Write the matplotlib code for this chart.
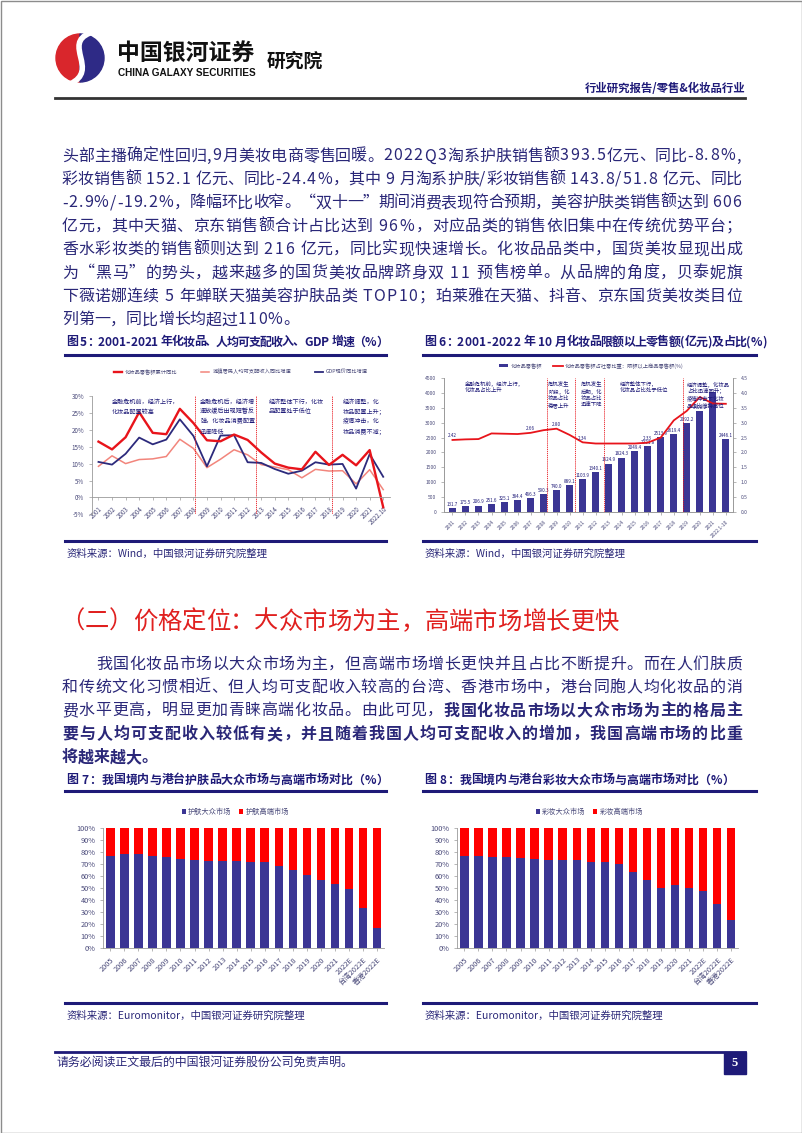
import numpy as np
import matplotlib
matplotlib.use('Agg')
import matplotlib.pyplot as plt
from matplotlib.patches import Rectangle, Wedge, PathPatch
from matplotlib.path import Path

plt.rcParams['font.family'] = ['Noto Sans CJK SC', 'DejaVu Sans']
plt.rcParams['axes.unicode_minus'] = False

W, H = 802, 1133

# ---------------- data ----------------
years5 = ['2001', '2002', '2003', '2004', '2005', '2006', '2007', '2008', '2009', '2010', '2011',
          '2012', '2013', '2014', '2015', '2016', '2017', '2018', '2019', '2020', '2021', '2022.10']
cosm_growth = [16.5, 14.2, 17.8, 25.2, 19.1, 18.7, 26.2, 22.0, 16.9, 16.6, 18.6,
               17.0, 13.3, 10.0, 8.8, 8.3, 13.5, 9.6, 12.6, 9.5, 14.0, -2.9]
income_growth = [9.2, 12.3, 10.0, 11.2, 11.4, 12.1, 17.2, 14.5, 8.8, 11.3, 14.1,
                 12.6, 9.7, 9.0, 8.2, 5.8, 8.3, 7.8, 7.9, 4.0, 8.2, 2.3]
gdp_growth = [10.5, 9.7, 12.9, 17.7, 15.7, 17.1, 23.1, 18.2, 9.2, 18.3, 18.4,
              10.4, 10.2, 8.4, 7.0, 7.9, 10.4, 9.7, 9.9, 2.6, 12.8, 6.1]
periods5 = [7.1, 11.6, 17.2]
notes5 = ['金融危机前，经济上行，\n化妆品配置较高',
          '金融危机后，经济增\n速放缓后出现短暂反\n弹，化妆品消费配置\n迅速降低',
          '经济整体下行，化妆\n品配置处于低位',
          '经济调整，化\n妆品配置上升；\n疫情冲击，化\n妆品消费不减；']
notes5_x = [1.0, 7.5, 12.55, 18.0]

years6 = ['2001', '2002', '2003', '2004', '2005', '2006', '2007', '2008', '2009', '2010', '2011',
          '2012', '2013', '2014', '2015', '2016', '2017', '2018', '2019', '2020', '2021', '2022.1-10']
sales = [131.7, 175.5, 206.9, 251.6, 325.1, 384.4, 466.3, 590.3, 740.0, 889.1, 1103.9,
         1340.1, 1624.9, 1824.3, 2049.4, 2221.8, 2513.9, 2619.4, 2992.2, 3400.2, 4026.0, 2446.1]
share = [2.42, 2.44, 2.45, 2.64, 2.63, 2.62, 2.66, 2.75, 2.80, 2.59, 2.34,
         2.30, 2.30, 2.30, 2.30, 2.33, 2.50, 3.08, 3.40, 3.87, 3.65, 3.64]
share_labeled = [0, 6, 8, 10, 15]
periods6 = [7.25, 9.4, 11.65, 17.7]
notes6 = ['金融危机前，经济上行，\n化妆品占比上升',
          '危机发生\n阶段，化\n妆品占比\n稳居上升',
          '危机发生\n后期，化\n妆品占比\n迅速下降',
          '经济整体下行，\n化妆品占比处于低位',
          '经济调整，化妆品\n占比迅速回升；\n疫情冲击下化妆\n品占比维持高位']
notes6_x = [0.95, 7.35, 9.85, 12.85, 18.0]

years78 = ['2005', '2006', '2007', '2008', '2009', '2010', '2011', '2012', '2013', '2014',
           '2015', '2016', '2017', '2018', '2019', '2020', '2021', '2022E', '台湾2022E', '香港2022E']
skin_mass = [76.7, 78.4, 77.8, 76.5, 75.3, 74.2, 73.1, 72.6, 72.0, 72.0,
             71.7, 71.2, 68.1, 65.1, 61.0, 56.5, 52.9, 48.8, 33.5, 16.3]
skin_prem = [23.3, 21.6, 22.2, 23.5, 24.7, 25.8, 26.9, 27.4, 28.0, 28.0,
             28.3, 28.8, 31.9, 34.9, 39.0, 43.5, 47.1, 51.2, 66.5, 83.7]
makeup_mass = [76.5, 76.5, 75.9, 75.3, 74.5, 74.0, 72.9, 73.4, 73.1, 71.7,
               71.7, 69.5, 63.2, 56.2, 50.1, 52.6, 49.9, 47.4, 36.6, 23.5]
makeup_prem = [23.5, 23.5, 24.1, 24.7, 25.5, 26.0, 27.1, 26.6, 26.9, 28.3,
               28.3, 30.5, 36.8, 43.8, 49.9, 47.4, 50.1, 52.6, 63.4, 76.5]

para1 = [
    '头部主播确定性回归,9月美妆电商零售回暖。2022Q3淘系护肤销售额393.5亿元、同比-8.8%,',
    '彩妆销售额 152.1 亿元、同比-24.4%，其中 9 月淘系护肤/彩妆销售额 143.8/51.8 亿元、同比',
    '-2.9%/-19.2%，降幅环比收窄。“双十一”期间消费表现符合预期，美容护肤类销售额达到 606',
    '亿元，其中天猫、京东销售额合计占比达到 96%，对应品类的销售依旧集中在传统优势平台；',
    '香水彩妆类的销售额则达到 216 亿元，同比实现快速增长。化妆品品类中，国货美妆显现出成',
    '为“黑马”的势头，越来越多的国货美妆品牌跻身双 11 预售榜单。从品牌的角度，贝泰妮旗',
    '下薇诺娜连续 5 年蝉联天猫美容护肤品类 TOP10；珀莱雅在天猫、抖音、京东国货美妆类目位',
    '列第一，同比增长均超过110%。',
]
para2 = [
    [('我国化妆品市场以大众市场为主，但高端市场增长更快并且占比不断提升。而在人们肤质', 'normal')],
    [('和传统文化习惯相近、但人均可支配收入较高的台湾、香港市场中，港台同胞人均化妆品的消', 'normal')],
    [('费水平更高，明显更加青睐高端化妆品。由此可见，', 'normal'), ('我国化妆品市场以大众市场为主的格局主', 'bold')],
    [('要与人均可支配收入较低有关，并且随着我国人均可支配收入的增加，我国高端市场的比重', 'bold')],
    [('将越来越大。', 'bold')],
]

# ---------------- colours ----------------
TXT = '#2a2778'
TITLE = '#1e1a78'
BAR = '#3b3594'
RED = '#e8141b'
PINK = '#f2857c'
GDPC = '#2c2a7c'
TICK = '#4a4a7a'
SPINE = '#9a9a9a'

fig = plt.figure(figsize=(W / 100, H / 100), dpi=100)
page = fig.add_axes([0, 0, 1, 1])
page.set_xlim(0, W)
page.set_ylim(H, 0)
page.axis('off')
renderer = fig.canvas.get_renderer()


def add_ax(x0, y0, x1, y1):
    return fig.add_axes([x0 / W, 1 - y1 / H, (x1 - x0) / W, (y1 - y0) / H])


def put_line(y, segs, x0, x1, size, color, justify=True):
    em = size * 100 / 72
    objs, widths = [], []
    for s, wt in segs:
        for ch in s:
            t = page.text(0, y, ch, fontsize=size, fontweight=wt, color=color,
                          va='center', ha='left')
            objs.append(t)
            if ch == ' ':
                widths.append(em * 0.3)
            elif ord(ch) >= 0x2E80 or ch in '“”':
                widths.append(em)
            else:
                widths.append(t.get_window_extent(renderer).width + em * 0.08)
    gap = (x1 - x0 - sum(widths)) / max(len(objs) - 1, 1) if justify else 0.0
    x = x0
    for t, w in zip(objs, widths):
        t.set_x(x)
        x += w + gap


# ---------------- page frame / header ----------------
page.add_patch(Rectangle((0.5, 0.5), W - 1, H - 1, fill=False, ec='#8c8c8c', lw=1))
page.add_patch(Wedge((80, 58), 24, 90, 270, color='#d9262c'))
page.add_patch(Wedge((80, 58), 24, -90, 90, color='#2e2a86'))
s_path = Path([(90, 33), (62, 44), (100, 70), (70, 84)],
              [Path.MOVETO, Path.CURVE4, Path.CURVE4, Path.CURVE4])
page.add_patch(PathPatch(s_path, fill=False, ec='white', lw=4))
page.text(117, 53, '中国银河证券', fontsize=16.5, fontweight='bold', color='#111111', va='center')
page.text(118, 73, 'CHINA GALAXY SECURITIES', fontsize=7.2, fontweight='bold', color='#111111',
          va='center', family=['Liberation Sans', 'DejaVu Sans'])
page.text(267, 61, '研究院', fontsize=13.5, fontweight='bold', color='#111111', va='center')
page.text(745, 88, '行业研究报告/零售&化妆品行业', fontsize=8.2, fontweight='bold', color=TITLE,
          va='center', ha='right')
page.plot([55, 745], [98, 98], color='#333333', lw=2)

# ---------------- paragraph 1 ----------------
for i, line in enumerate(para1):
    put_line(156 + i * 23.4, [(line, 'normal')], 62, 742, 11.5, TXT, justify=i < len(para1) - 1)

# ---------------- chart titles ----------------
put_line(342, [('图 5：2001-2021 年化妆品、人均可支配收入、GDP 增速（%）', 'bold')], 66, 388, 8.6, TITLE)
put_line(342, [('图 6：2001-2022 年 10 月化妆品限额以上零售额(亿元)及占比(%)', 'bold')], 424, 768, 8.6, TITLE)
put_line(780, [('图 7：我国境内与港台护肤品大众市场与高端市场对比（%）', 'bold')], 66, 381, 8.6, TITLE, justify=False)
put_line(780, [('图 8：我国境内与港台彩妆大众市场与高端市场对比（%）', 'bold')], 424, 724, 8.6, TITLE, justify=False)
for yy in (354.5, 791):
    page.plot([65, 386], [yy, yy], color=TITLE, lw=2.2)
    page.plot([423, 756], [yy, yy], color=TITLE, lw=2.2)
for yy, src in ((541, '资料来源：Wind，中国银河证券研究院整理'),
                (1003, '资料来源：Euromonitor，中国银河证券研究院整理')):
    page.plot([65, 386], [yy, yy], color=TITLE, lw=2.2)
    page.plot([423, 756], [yy, yy], color=TITLE, lw=2.2)
    page.text(67, yy + 13, src, fontsize=7.5, color=TXT, va='center')
    page.text(425, yy + 13, src, fontsize=7.5, color=TXT, va='center')

# ---------------- section heading + paragraph 2 ----------------
put_line(622, [('（二）价格定位：大众市场为主，高端市场增长更快', 'normal')], 60, 637, 17.5, '#e0201f', justify=False)
for i, segs in enumerate(para2):
    x0 = 62 + 2 * 17 if i == 0 else 62
    put_line(664 + i * 23.3, segs, x0, 742, 11.5, TXT, justify=i < len(para2) - 1)

# ---------------- footer ----------------
page.plot([55, 745], [1052, 1052], color=TITLE, lw=2)
page.text(57, 1063, '请务必阅读正文最后的中国银河证券股份公司免责声明。', fontsize=8.6, color=TXT, va='center')
page.add_patch(Rectangle((724, 1052), 22, 22, color=TITLE))
page.text(735, 1063, '5', fontsize=9, fontweight='bold', color='white', ha='center', va='center',
          family=['Liberation Serif', 'DejaVu Serif'])


def style_axis(ax, size):
    ax.tick_params(labelsize=size, colors=TICK, length=2, width=0.5)
    ax.tick_params(axis='both', color=SPINE)
    for s in ax.spines.values():
        s.set_color(SPINE)
        s.set_linewidth(0.6)
    ax.spines['top'].set_visible(False)


# ---------------- chart 5 ----------------
ax5 = add_ax(91.7, 396, 390, 514.3)
ax5.spines['bottom'].set_position(('data', 0))
x5 = np.arange(len(years5))
l_inc, = ax5.plot(x5, income_growth, color=PINK, lw=1.1, label='城镇居民人均可支配收入同比增速')
l_gdp, = ax5.plot(x5, gdp_growth, color=GDPC, lw=1.3, label='GDP现价同比增速')
l_cos, = ax5.plot(x5, cosm_growth, color=RED, lw=1.7, label='化妆品零售额累计同比')
for xv in periods5:
    ax5.axvline(xv, color=RED, lw=0.6, ls=(0, (1.5, 1)))
for xv, note in zip(notes5_x, notes5):
    ax5.text(xv, 29.6, note, fontsize=4.4, color=TITLE, va='top', ha='left', linespacing=1.35)
ax5.set_xlim(-0.5, len(x5) - 0.5)
ax5.set_ylim(-5, 30)
ax5.set_yticks(range(-5, 31, 5))
ax5.set_yticklabels([f'{v}%' for v in range(-5, 31, 5)])
ax5.set_xticks(x5)
ax5.set_xticklabels(years5, rotation=45, ha='right', rotation_mode='anchor')
style_axis(ax5, 4.5)
ax5.spines['right'].set_visible(False)
ax5.legend(handles=[l_cos, l_inc, l_gdp], loc='center', bbox_to_anchor=(0.5, 1.205), ncol=3,
           frameon=False, fontsize=3.8, handlelength=1.5, columnspacing=4.5, handletextpad=0.6,
           labelcolor=TICK)

# ---------------- chart 6 ----------------
ax6 = add_ax(444, 378.3, 733, 511.7)
x6 = np.arange(len(years6))
bars6 = ax6.bar(x6, sales, width=0.55, color=BAR, label='化妆品零售额')
for i, v in enumerate(sales):
    if i != 20:
        ax6.text(i, v + 40, f'{v:.1f}', fontsize=3.3, color=TITLE, ha='center', va='bottom')
ax6r = ax6.twinx()
l_share, = ax6r.plot(x6, share, color=RED, lw=1.3, label='化妆品零售额占社零比重：限额以上商品零售额(%)')
for i in share_labeled:
    ax6r.text(i, share[i] + 0.05, f'{share[i]:.2f}', fontsize=3.3, color=TITLE, ha='center', va='bottom')
for xv in periods6:
    ax6r.axvline(xv, color=RED, lw=0.6, ls=(0, (1.5, 1)))
for xv, note in zip(notes6_x, notes6):
    ax6r.text(xv, 4.42, note, fontsize=3.9, color=TITLE, va='top', ha='left', linespacing=1.35)
ax6.set_xlim(-0.65, len(x6) - 0.45)
ax6.set_ylim(0, 4500)
ax6r.set_ylim(0, 4.5)
ax6.set_yticks(range(0, 4501, 500))
ax6r.set_yticks(np.arange(0, 4.51, 0.5))
ax6r.set_yticklabels([f'{v:.1f}' for v in np.arange(0, 4.51, 0.5)])
ax6.set_xticks(x6)
ax6.set_xticklabels(years6, rotation=45, ha='right', rotation_mode='anchor')
style_axis(ax6, 3.6)
style_axis(ax6r, 3.6)
ax6.legend(handles=[bars6, l_share], loc='center', bbox_to_anchor=(0.51, 1.094), ncol=2,
           frameon=False, fontsize=3.8, handlelength=1.8, handleheight=0.5, columnspacing=2,
           handletextpad=0.5, labelcolor=TICK)


# ---------------- charts 7 & 8 ----------------
def stacked(ax, mass, prem, names, cx):
    xs = np.arange(len(years78))
    ax.bar(xs, mass, width=0.6, color=BAR, label=names[0])
    ax.bar(xs, prem, width=0.6, bottom=mass, color='#ff0000', label=names[1])
    ax.set_xlim(-0.5, len(xs) - 0.5)
    ax.set_ylim(0, 100)
    ax.set_yticks(range(0, 101, 10))
    ax.set_yticklabels([f'{v}%' for v in range(0, 101, 10)])
    ax.set_xticks(xs)
    ax.set_xticklabels(years78, rotation=45, ha='right', rotation_mode='anchor')
    style_axis(ax, 5.3)
    ax.spines['right'].set_visible(False)
    ax.legend(loc='center', bbox_to_anchor=(cx, 1.13), ncol=2, frameon=False, fontsize=5.2,
              handlelength=0.6, handleheight=0.6, columnspacing=1.0, handletextpad=0.3,
              labelcolor=TICK)


ax7 = add_ax(103.3, 827.7, 384, 948)
stacked(ax7, skin_mass, skin_prem, ['护肤大众市场', '护肤高端市场'], 0.47)
ax8 = add_ax(457.3, 827.7, 738.3, 948)
stacked(ax8, makeup_mass, makeup_prem, ['彩妆大众市场', '彩妆高端市场'], 0.47)

fig.savefig('out.png', dpi=100)
